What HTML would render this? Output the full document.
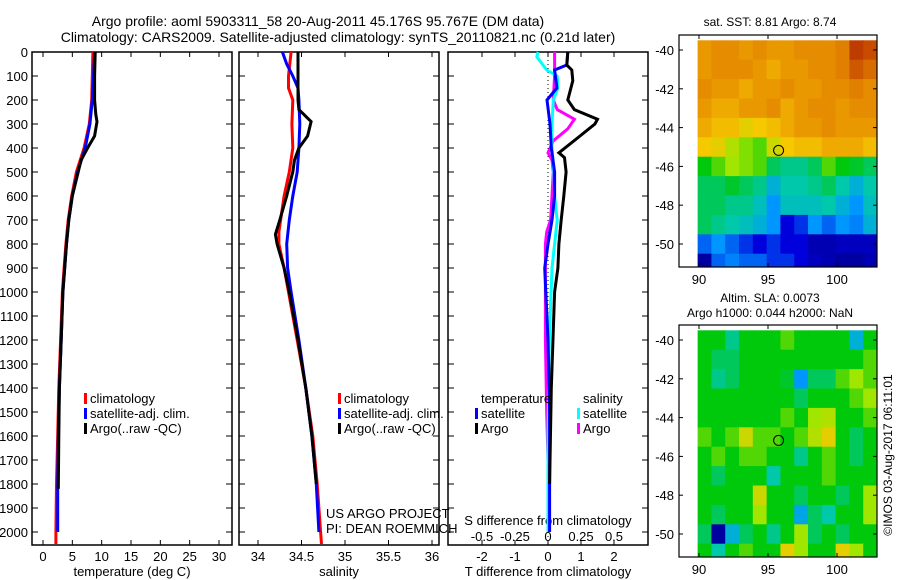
<!DOCTYPE html>
<html><head><meta charset="utf-8"><style>
html,body{margin:0;padding:0;background:#fff;}
svg{display:block;font-family:"Liberation Sans",sans-serif;}
</style></head><body>
<svg id="fig" width="900" height="580" viewBox="0 0 900 580">
<text x="318" y="26" font-size="14" text-anchor="middle">Argo profile: aoml 5903311_58 20-Aug-2011 45.176S 95.767E (DM data)</text>
<text x="338" y="42" font-size="14" text-anchor="middle">Climatology: CARS2009. Satellite-adjusted climatology: synTS_20110821.nc (0.21d later)</text>
</svg>
<script>
// ---------- data ----------
const tClimDepth=[0,100,200,300,400,500,600,700,800,900,1000,1200,1400,1600,1800,2000,2050];
const tClimVal=[8.5,8.4,8.3,7.9,7.0,5.7,4.9,4.3,3.9,3.6,3.3,3.0,2.7,2.5,2.3,2.2,2.2];
const tSatDepth=[0,100,200,300,400,500,600,700,800,900,1000,1200,1400,1600,1800,2000];
const tSatVal=[8.8,8.6,8.4,8.0,7.2,5.9,5.0,4.4,4.0,3.7,3.4,3.1,2.8,2.6,2.5,2.5];
const tArgoDepth=[0,100,200,260,290,350,400,450,500,600,700,800,900,1000,1200,1400,1600,1820];
const tArgoVal=[8.9,8.8,8.8,9.0,9.2,8.8,7.6,6.5,6.0,5.0,4.4,4.0,3.7,3.4,3.1,2.8,2.7,2.6];

const sClimDepth=[0,100,150,200,300,400,500,600,700,750,800,900,1000,1200,1400,1600,1800,2000,2050];
const sClimVal=[34.38,34.35,34.35,34.40,34.39,34.40,34.36,34.30,34.26,34.24,34.24,34.30,34.35,34.45,34.55,34.63,34.68,34.72,34.73];
const sSatDepth=[0,50,100,150,200,300,400,500,600,700,800,900,1000,1200,1400,1600,1800,2000];
const sSatVal=[34.28,34.33,34.40,34.46,34.47,34.48,34.47,34.45,34.40,34.36,34.33,34.34,34.38,34.47,34.55,34.62,34.67,34.70];
const sArgoDepth=[0,200,240,290,350,400,450,500,600,700,760,800,900,1000,1200,1400,1600,1800];
const sArgoVal=[34.46,34.46,34.47,34.61,34.57,34.47,34.42,34.40,34.33,34.25,34.20,34.22,34.30,34.36,34.46,34.55,34.62,34.67];

const dTSatDepth=[0,54,75,150,200,300,400,500,600,700,800,900,1200,1500,1800,2000];
const dTSatVal=[0.6,0.57,0.2,0.27,-0.03,0.06,0.1,0.2,0.2,0.12,0.0,-0.1,0.0,0.05,0.05,0.05];
const dTArgoDepth=[0,54,75,120,200,240,280,300,350,420,440,500,600,700,800,900,1000,1400,1800];
const dTArgoVal=[0.6,0.57,0.72,0.75,0.6,0.8,1.5,1.42,0.97,0.33,0.5,0.55,0.48,0.4,0.33,0.3,0.2,0.1,0.05];
const dSSatDepth=[0,20,75,100,150,200,300,400,500,600,700,800,900,1200,1600,2000];
const dSSatVal=[-0.076,-0.085,-0.01,0.07,0.075,0.04,0.03,0.03,0.045,0.05,0.07,0.05,0.03,0.01,0.0,0.0];
const dSArgoDepth=[0,100,200,240,280,320,370,420,450,500,600,700,750,800,900,1200,1500,1700];
const dSArgoVal=[0.05,0.05,0.04,0.07,0.2,0.15,0.04,0.0,0.03,0.04,0.03,0.02,-0.01,-0.02,-0.02,-0.02,-0.01,0.0];

const depthTicks=[0,100,200,300,400,500,600,700,800,900,1000,1100,1200,1300,1400,1500,1600,1700,1800,1900,2000];
const tempTicks=[0,5,10,15,20,25,30];
const salTicks=[34,34.5,35,35.5,36];
const salTickLabels=["34","34.5","35","35.5","36"];
const dTTicks=[-2,-1,0,1,2];
const dSTicks=[-0.5,-0.25,0,0.25,0.5];
const dSTickLabels=["-0.5","-0.25","0","0.25","0.5"];
const latTicks=[-40,-42,-44,-46,-48,-50];
const lonTicks=[90,95,100];

const sstGrid=[
[.78,.8,.8,.78,.8,.78,.78,.8,.8,.8,.82,.92,.9],
[.78,.8,.8,.8,.78,.75,.78,.78,.8,.8,.82,.88,.85],
[.8,.78,.78,.75,.78,.78,.8,.78,.78,.8,.8,.82,.8],
[.78,.75,.75,.78,.78,.8,.75,.78,.8,.8,.78,.8,.8],
[.75,.72,.72,.68,.7,.72,.75,.78,.78,.8,.78,.78,.78],
[.7,.68,.62,.58,.55,.65,.7,.72,.72,.75,.75,.75,.72],
[.5,.55,.6,.58,.55,.45,.42,.42,.45,.55,.5,.48,.45],
[.45,.45,.48,.45,.42,.35,.4,.4,.42,.45,.4,.35,.4],
[.45,.45,.42,.42,.38,.3,.38,.38,.38,.4,.35,.3,.38],
[.45,.42,.4,.38,.35,.3,.15,.2,.3,.25,.3,.28,.35],
[.25,.3,.25,.2,.15,.2,.15,.15,.08,.08,.1,.1,.1],
[.05,.25,.28,.25,.25,.2,.2,.15,.1,.08,.05,.05,.08]];
const slaGrid=[
[.5,.5,.42,.5,.5,.5,.55,.5,.5,.5,.5,.35,.5],
[.5,.45,.45,.5,.5,.5,.5,.5,.5,.5,.5,.5,.55],
[.5,.42,.45,.5,.5,.5,.48,.3,.45,.45,.55,.6,.55],
[.5,.5,.5,.5,.5,.5,.5,.45,.5,.5,.5,.55,.6],
[.5,.5,.5,.5,.5,.5,.55,.5,.6,.62,.5,.5,.55],
[.55,.5,.55,.65,.55,.55,.5,.55,.62,.68,.5,.45,.5],
[.5,.55,.5,.55,.55,.5,.5,.42,.5,.55,.5,.45,.5],
[.5,.45,.5,.5,.5,.4,.5,.5,.5,.55,.5,.5,.5],
[.5,.5,.5,.5,.65,.5,.5,.45,.5,.5,.45,.5,.6],
[.5,.45,.5,.5,.6,.5,.5,.33,.45,.4,.5,.5,.6],
[.45,.05,.35,.45,.5,.42,.5,.6,.45,.5,.45,.5,.5],
[.5,.4,.5,.55,.5,.5,.68,.6,.5,.5,.68,.6,.5]];
const gridLat0=-40, gridLon0=90;
const floatLon=95.767, floatLat=-45.176;

const NS="http://www.w3.org/2000/svg";
const svg=document.getElementById('fig');
function mk(tag,attrs,parent){const e=document.createElementNS(NS,tag);for(const k in attrs)e.setAttribute(k,attrs[k]);(parent||svg).appendChild(e);return e;}
function txt(x,y,s,size,anchor,parent){const t=mk('text',{x:x,y:y,'font-size':size,'text-anchor':anchor||'start'},parent);t.textContent=s;return t;}

const yTop=52, pxPer100=24, yBot=545;
const yD=d=>yTop+d*pxPer100/100;
const xT=v=>43+v*176/30;
const xS=v=>258+(v-34)*87;
const xDT=v=>548+v*33;
const xDS=v=>548+v*132;

function frame(x0,x1,name){
  const r=mk('rect',{x:x0,y:yTop,width:x1-x0,height:yBot-yTop,fill:'none',stroke:'#000','stroke-width':1.5});
  
  
  depthTicks.forEach(d=>{
    mk('line',{x1:x0,x2:x0+6,y1:yD(d),y2:yD(d),stroke:'#000'});
    mk('line',{x1:x1,x2:x1-6,y1:yD(d),y2:yD(d),stroke:'#000'});
  });
}
function series(depths,vals,xf,color,name){
  const pts=depths.map((d,i)=>xf(vals[i]).toFixed(1)+','+yD(d).toFixed(1)).join(' ');
  const p=mk('polyline',{points:pts,fill:'none',stroke:color,'stroke-width':3,'stroke-linejoin':'miter'});
  
  
}
function xticks(ticks,labels,xf,yLab,top){
  ticks.forEach((v,i)=>{
    const x=xf(v);
    if(top){mk('line',{x1:x,x2:x,y1:yTop,y2:yTop+5,stroke:'#000'});}
    mk('line',{x1:x,x2:x,y1:yBot,y2:yBot-5,stroke:'#000'});
    const t=txt(x,yLab,labels[i],13,'middle');
    
    
  });
}

depthTicks.forEach(d=>{const t=txt(28,yD(d)+5,String(d),13,'end');
  
  });

frame(32,232,'temperature-panel');
xticks(tempTicks,tempTicks.map(String),xT,561,true);
series(tClimDepth,tClimVal,xT,'#f00','temp-climatology-line');
series(tSatDepth,tSatVal,xT,'#00f','temp-satellite-line');
series(tArgoDepth,tArgoVal,xT,'#000','temp-argo-line');
let t=txt(132,576,'temperature (deg C)',13,'middle');


frame(239,439,'salinity-panel');
xticks(salTicks,salTickLabels,xS,561,true);
series(sClimDepth,sClimVal,xS,'#f00','sal-climatology-line');
series(sSatDepth,sSatVal,xS,'#00f','sal-satellite-line');
series(sArgoDepth,sArgoVal,xS,'#000','sal-argo-line');
t=txt(339,576,'salinity',13,'middle');

t=txt(326,518,'US ARGO PROJECT',13);

t=txt(326,533,'PI: DEAN ROEMMICH',13);


function legend(x,y,items,name){
  const g=mk('g',{});
  
  
  items.forEach((it,i)=>{
    if(it[1])mk('rect',{x:x,y:y+i*15-9,width:3,height:11,fill:it[1]},g);
    txt(x+6,y+i*15+1,it[0],13,'start',g);
  });
}
legend(84,402,[['climatology','#f00'],['satellite-adj. clim.','#00f'],['Argo(..raw -QC)','#000']],'temperature-legend');
legend(338,402,[['climatology','#f00'],['satellite-adj. clim.','#00f'],['Argo(..raw -QC)','#000']],'salinity-legend');

frame(448,648,'difference-panel');
mk('line',{x1:548,x2:548,y1:yTop,y2:yBot,stroke:'#000','stroke-dasharray':'1,3'});
xticks(dTTicks,dTTicks.map(String),xDT,561,true);
dSTicks.forEach((v,i)=>{const tt=txt(xDS(v),541,dSTickLabels[i],13,'middle');
  });
t=txt(548,525,'S difference from climatology',13,'middle');

t=txt(548,576,'T difference from climatology',13,'middle');

series(dSArgoDepth,dSArgoVal,xDS,'#f0f','s-diff-argo-line');
series(dSSatDepth,dSSatVal,xDS,'#0ff','s-diff-satellite-line');
series(dTSatDepth,dTSatVal,xDT,'#00f','t-diff-satellite-line');
series(dTArgoDepth,dTArgoVal,xDT,'#000','t-diff-argo-line');
legend(475,402,[['temperature',null],['satellite','#00f'],['Argo','#000']],'t-diff-legend');
legend(577,402,[['salinity',null],['satellite','#0ff'],['Argo','#f0f']],'s-diff-legend');

const stops=[[0,[0,0,130]],[.15,[0,0,220]],[.3,[0,150,255]],[.4,[0,200,170]],[.5,[0,200,10]],[.6,[160,230,0]],[.7,[245,200,0]],[.8,[230,140,0]],[.9,[200,75,0]],[1,[150,0,0]]];
function cmap(v){for(let i=1;i<stops.length;i++){if(v<=stops[i][0]){const a=stops[i-1],b=stops[i],f=(v-a[0])/(b[0]-a[0]);
  return 'rgb('+a[1].map((c,k)=>Math.round(c+(b[1][k]-c)*f)).join(',')+')';}}return 'rgb(150,0,0)';}
function map(y0,grid,name,cid){
  const fx0=679,fx1=877,fy1=y0+232;
  const latY=lat=>y0+15+(-40-lat)*19.4;
  const lonX=lon=>699+(lon-90)*13.8;
  const cp=mk('clipPath',{id:cid});mk('rect',{x:fx0,y:y0,width:fx1-fx0,height:fy1-y0},cp);
  const g=mk('g',{'clip-path':'url(#'+cid+')'});
  
  
  grid.forEach((row,r)=>row.forEach((v,c)=>{
    const lat=gridLat0-r, lon=gridLon0+c;
    mk('rect',{x:lonX(lon-0.1),y:latY(lat+0.5),width:13.8*1.02+0.5,height:19.4+0.5,fill:cmap(v)},g);
  }));
  mk('rect',{x:fx0,y:y0,width:fx1-fx0,height:fy1-y0,fill:'none',stroke:'#000','stroke-width':1.2});
  latTicks.forEach(l=>{const y=latY(l);mk('line',{x1:fx0,x2:fx0+4,y1:y,y2:y,stroke:'#000'});mk('line',{x1:fx1,x2:fx1-4,y1:y,y2:y,stroke:'#000'});
    const tt=txt(674,y+5,String(l),13,'end');});
  lonTicks.forEach(l=>{const x=lonX(l);mk('line',{x1:x,x2:x,y1:y0,y2:y0+4,stroke:'#000'});mk('line',{x1:x,x2:x,y1:fy1,y2:fy1-4,stroke:'#000'});
    const tt=txt(x,fy1+17,String(l),13,'middle');});
  const c=mk('circle',{cx:lonX(floatLon),cy:latY(floatLat),r:5,fill:'none',stroke:'#000','stroke-width':1});
  
  
}
map(35,sstGrid,'sst-map','clipA');
map(325,slaGrid,'sla-map','clipB');
t=txt(770,26,'sat. SST: 8.81  Argo: 8.74',12,'middle');

t=txt(770,302,'Altim. SLA: 0.0073',12,'middle');

t=txt(770,317,'Argo h1000: 0.044 h2000: NaN',12,'middle');

t=mk('text',{x:0,y:0,'font-size':12,'text-anchor':'middle',transform:'translate(892,455) rotate(-90)'});
t.textContent='©IMOS 03-Aug-2017 06:11:01';

</script>
</body></html>
